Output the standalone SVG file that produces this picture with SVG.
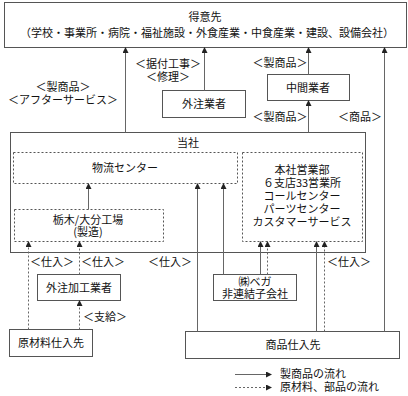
<svg xmlns="http://www.w3.org/2000/svg" width="408" height="396" viewBox="0 0 408 396">
<style>
.b{fill:#fff;stroke:#555;stroke-width:1}
.d{fill:none;stroke:#555;stroke-width:1;stroke-dasharray:2 2}
.s{stroke:#666;stroke-width:1;fill:none}
.sd{stroke:#666;stroke-width:1;fill:none;stroke-dasharray:2 2}
text{font-family:"Noto Sans CJK JP","Noto Sans",sans-serif;font-size:11px;fill:#111;text-anchor:middle}
.l{text-anchor:start}
</style>
<defs>
<marker id="a" markerUnits="userSpaceOnUse" markerWidth="6" markerHeight="6" refX="5" refY="3" orient="auto">
<path d="M0,0 L6,3 L0,6 Z" fill="#222"/>
</marker>
</defs>
<rect x="0" y="0" width="408" height="396" fill="#fff"/>
<g id="tokuisaki"><rect class="b" x="4.5" y="2.5" width="402" height="45"/><text x="205" y="21"><tspan x="205">得意先</tspan><tspan x="207" dy="16">（学校・事業所・病院・福祉施設・外食産業・中食産業・建設、設備会社）</tspan></text></g>
<g id="gaichu"><rect class="b" x="162.5" y="90.5" width="83" height="27"/><text x="204" y="108">外注業者</text></g>
<g id="chukan"><rect class="b" x="267.5" y="74.5" width="82" height="26"/><text x="308" y="91.5">中間業者</text></g>
<g id="tosha"><rect class="b" x="10.5" y="132.5" width="355" height="120"/><text x="188" y="147">当社</text></g>
<g id="butsuryu"><rect class="d" x="13.5" y="152.5" width="224" height="31"/><text x="125" y="172">物流センター</text></g>
<g id="honsha"><rect class="d" x="242.5" y="152.5" width="120" height="89"/><text x="302" y="174"><tspan x="302">本社営業部</tspan><tspan x="302" dy="13">６支店33営業所</tspan><tspan x="302" dy="13">コールセンター</tspan><tspan x="302" dy="13">パーツセンター</tspan><tspan x="302" dy="12.5">カスタマーサービス</tspan></text></g>
<g id="kojo"><rect class="d" x="14.5" y="209.5" width="149" height="32"/><text x="88" y="224"><tspan x="88">栃木/大分工場</tspan><tspan x="88" dy="12">(製造)</tspan></text></g>
<g id="gaichukako"><rect class="b" x="37.5" y="274.5" width="83" height="26"/><text x="79" y="291.5">外注加工業者</text></g>
<g id="genzairyo"><rect class="b" x="9.5" y="329.5" width="83" height="27"/><text x="51" y="347">原材料仕入先</text></g>
<g id="vega"><rect class="b" x="213.5" y="274.5" width="83" height="26"/><text x="255" y="286"><tspan x="255">㈱ベガ</tspan><tspan x="255" dy="11.5">非連結子会社</tspan></text></g>
<g id="shohin"><rect class="b" x="185.5" y="331.5" width="214" height="27"/><text x="293" y="349">商品仕入先</text></g>
<g id="connectors">
<line class="s" x1="125.5" y1="132.5" x2="125.5" y2="48" marker-end="url(#a)"/>
<line class="s" x1="204.5" y1="90.5" x2="204.5" y2="48" marker-end="url(#a)"/>
<line class="s" x1="308.5" y1="74.5" x2="308.5" y2="48" marker-end="url(#a)"/>
<line class="s" x1="308.5" y1="132.5" x2="308.5" y2="101" marker-end="url(#a)"/>
<line class="s" x1="384.5" y1="331.5" x2="384.5" y2="48" marker-end="url(#a)"/>
<line class="s" x1="88.5" y1="209.5" x2="88.5" y2="184" marker-end="url(#a)"/>
<line class="s" x1="197.5" y1="331.5" x2="197.5" y2="184" marker-end="url(#a)"/>
<line class="s" x1="223.5" y1="274.5" x2="223.5" y2="184" marker-end="url(#a)"/>
<line class="s" x1="260.5" y1="274.5" x2="260.5" y2="242" marker-end="url(#a)"/>
<line class="s" x1="316.5" y1="331.5" x2="316.5" y2="242" marker-end="url(#a)"/>
<line class="sd" x1="28.5" y1="329.5" x2="28.5" y2="242" marker-end="url(#a)"/>
<line class="sd" x1="79.5" y1="274.5" x2="79.5" y2="242" marker-end="url(#a)"/>
<line class="sd" x1="79.5" y1="329.5" x2="79.5" y2="301" marker-end="url(#a)"/>
<line class="sd" x1="267.5" y1="274.5" x2="267.5" y2="242" marker-end="url(#a)"/>
<line class="sd" x1="324.5" y1="331.5" x2="324.5" y2="242" marker-end="url(#a)"/>
<line class="s" x1="235" y1="374.5" x2="271" y2="374.5" marker-end="url(#a)"/>
<line class="sd" x1="235" y1="387.5" x2="271" y2="387.5" marker-end="url(#a)"/>
</g>
<g id="labels">
<text x="63" y="91"><tspan x="63">＜製商品＞</tspan><tspan x="63" dy="13">＜アフターサービス＞</tspan></text>
<text x="168" y="68"><tspan x="168">＜据付工事＞</tspan><tspan x="168" dy="13">＜修理＞</tspan></text>
<text x="280" y="67">＜製商品＞</text>
<text x="280" y="121">＜製商品＞</text>
<text x="360" y="121">＜商品＞</text>
<text x="52" y="266">＜仕入＞</text>
<text x="103" y="266">＜仕入＞</text>
<text x="170" y="266">＜仕入＞</text>
<text x="349" y="266">＜仕入＞</text>
<text x="105" y="321">＜支給＞</text>
<text class="l" x="280" y="378">製商品の流れ</text>
<text class="l" x="280" y="391">原材料、部品の流れ</text>
</g>
</svg>
